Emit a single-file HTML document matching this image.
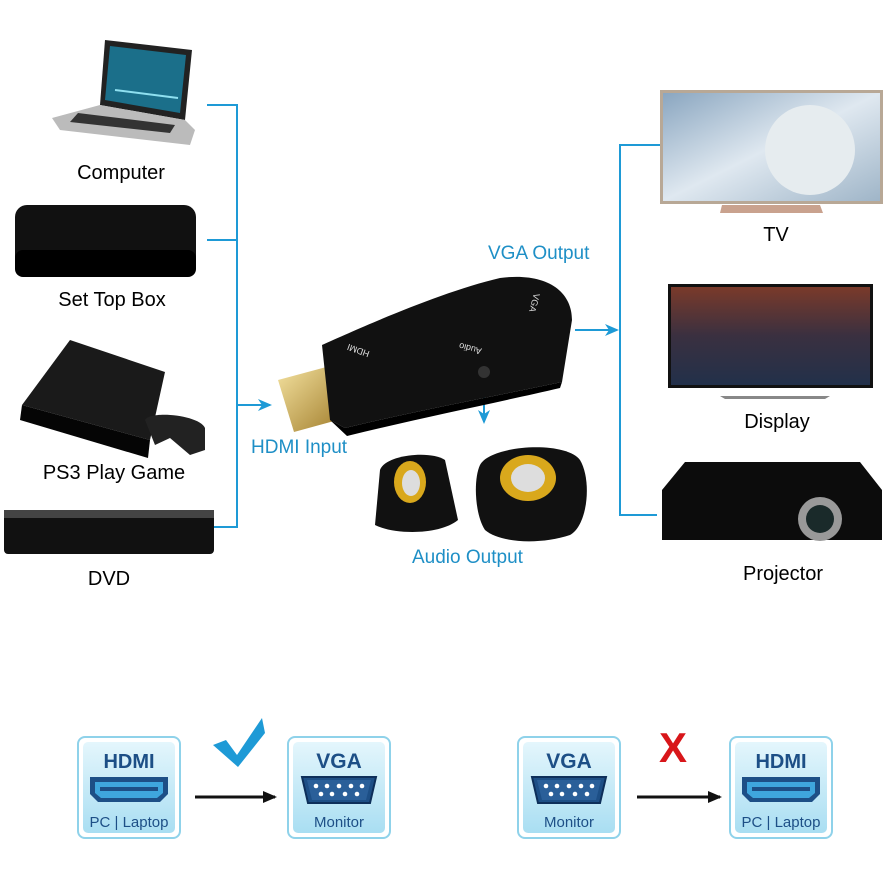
<!DOCTYPE html>
<html><head><meta charset="utf-8"><style>
html,body{margin:0;padding:0;background:#fff}
svg{display:block}
text{font-family:"Liberation Sans",sans-serif}
</style></head><body>
<svg width="890" height="890" viewBox="0 0 890 890" xmlns="http://www.w3.org/2000/svg">
<defs>
<linearGradient id="bx" x1="0" y1="0" x2="0" y2="1"><stop offset="0" stop-color="#e4f6fc"/><stop offset="1" stop-color="#a9def2"/></linearGradient>
<linearGradient id="gold" x1="0" y1="0" x2="1" y2="1"><stop offset="0" stop-color="#f4e2a0"/><stop offset="1" stop-color="#a07c2a"/></linearGradient>
<linearGradient id="tv" x1="0" y1="0" x2="1" y2="1"><stop offset="0" stop-color="#8aa6c0"/><stop offset=".5" stop-color="#dfe8f0"/><stop offset="1" stop-color="#9fb5c8"/></linearGradient>
<linearGradient id="disp" x1="0" y1="0" x2="0" y2="1"><stop offset="0" stop-color="#7a3a2a"/><stop offset=".5" stop-color="#3a3040"/><stop offset="1" stop-color="#22304a"/></linearGradient>
<marker id="ab" markerWidth="14" markerHeight="12" refX="12" refY="6" orient="auto" markerUnits="userSpaceOnUse"><path d="M0,0 L14,6 L0,12 L4,6z" fill="#1e9ad6"/></marker>
<marker id="ak" markerWidth="14" markerHeight="12" refX="12" refY="6" orient="auto" markerUnits="userSpaceOnUse"><path d="M0,0 L14,6 L0,12z" fill="#111"/></marker>
<g id="hdmibox">
<rect x="0" y="0" width="102" height="101" rx="7" fill="#fff" stroke="#8fd2ea" stroke-width="2"/>
<rect x="5" y="5" width="92" height="91" rx="5" fill="url(#bx)"/>
<text x="51" y="31" font-size="20" font-weight="bold" fill="#1d4f86" text-anchor="middle">HDMI</text>
<path d="M12,40 H90 V57 L82,65 H20 L12,57Z" fill="#1d4f86"/>
<path d="M17,45 H85 V56 L79,61 H23 L17,56Z" fill="#3fa6dd"/>
<rect x="22" y="50" width="58" height="4" fill="#1d4f86"/>
<text x="51" y="90" font-size="15" fill="#1d4f86" text-anchor="middle">PC | Laptop</text>
</g>
<g id="vgabox">
<rect x="0" y="0" width="102" height="101" rx="7" fill="#fff" stroke="#8fd2ea" stroke-width="2"/>
<rect x="5" y="5" width="92" height="91" rx="5" fill="url(#bx)"/>
<text x="51" y="31" font-size="21" font-weight="bold" fill="#1d4f86" text-anchor="middle">VGA</text>
<path d="M14,40 H88 L82,66 H20Z" fill="#1d4f86" stroke="#0d2f5a" stroke-width="2"/>
<path d="M19,43 H83 L78,63 H24Z" fill="#2a5f99"/>
<g fill="#fff"><circle cx="28" cy="49" r="2.3"/><circle cx="39" cy="49" r="2.3"/><circle cx="51" cy="49" r="2.3"/><circle cx="63" cy="49" r="2.3"/><circle cx="74" cy="49" r="2.3"/>
<circle cx="33" cy="57" r="2.3"/><circle cx="44" cy="57" r="2.3"/><circle cx="57" cy="57" r="2.3"/><circle cx="69" cy="57" r="2.3"/></g>
<text x="51" y="90" font-size="15" fill="#1d4f86" text-anchor="middle">Monitor</text>
</g>
</defs>

<!-- connectors -->
<g stroke="#1e9ad6" stroke-width="2" fill="none">
<path d="M207,105 H237 V527 H212"/>
<path d="M207,240 H237"/>
<path d="M237,405 H270" marker-end="url(#ab)"/>
<path d="M660,145 H620 V515 H657"/>
<path d="M575,330 H617" marker-end="url(#ab)"/>
<path d="M484,385 V422" marker-end="url(#ab)"/>
</g>
<g fill="#1e8fc6" font-size="19">
<text x="488" y="259">VGA Output</text>
<text x="251" y="453">HDMI Input</text>
<text x="412" y="563">Audio Output</text>
</g>

<!-- laptop -->
<path d="M105,40 L192,50 L185,120 L100,105Z" fill="#222"/>
<path d="M110,46 L186,55 L180,113 L105,100Z" fill="#1b6f8a"/>
<path d="M115,90 L178,98" stroke="#8fe0f0" stroke-width="2"/>
<path d="M100,105 L185,120 L195,130 L190,145 L60,130 L52,118Z" fill="#bbb"/>
<path d="M78,113 L175,125 L170,133 L70,122Z" fill="#333"/>
<text x="121" y="179" font-size="20" text-anchor="middle">Computer</text>
<!-- set top box -->
<rect x="15" y="205" width="181" height="72" rx="12" fill="#111"/>
<rect x="15" y="250" width="181" height="27" rx="8" fill="#000"/>
<text x="112" y="306" font-size="20" text-anchor="middle">Set Top Box</text>
<!-- ps3 -->
<path d="M70,340 L165,372 L150,440 L22,405 Z" fill="#1a1a1a"/>
<path d="M22,405 L150,440 L148,458 L20,420Z" fill="#050505"/>
<path d="M145,420 C150,410 200,415 205,428 L205,450 L190,455 L170,438 L155,445 Z" fill="#222"/>
<text x="114" y="479" font-size="20" text-anchor="middle">PS3 Play Game</text>
<!-- dvd -->
<rect x="4" y="510" width="210" height="44" rx="4" fill="#111"/>
<rect x="4" y="510" width="210" height="8" fill="#444"/>
<text x="109" y="585" font-size="20" text-anchor="middle">DVD</text>

<!-- TV -->
<rect x="660" y="90" width="223" height="114" fill="#b8a896"/>
<rect x="663" y="93" width="217" height="108" fill="url(#tv)"/>
<ellipse cx="810" cy="150" rx="45" ry="45" fill="#e6ecef"/>
<path d="M722,205 H820 L823,213 H720Z" fill="#c9a28e"/>
<text x="776" y="241" font-size="20" text-anchor="middle">TV</text>
<!-- display -->
<rect x="668" y="284" width="205" height="104" fill="#111"/>
<rect x="671" y="287" width="199" height="98" fill="url(#disp)"/>
<path d="M720,396 H830 L825,399 H725Z" fill="#888"/>
<text x="777" y="428" font-size="20" text-anchor="middle">Display</text>
<!-- projector -->
<path d="M685,462 H860 L882,490 V540 H662 V490Z" fill="#0c0c0c"/>
<circle cx="820" cy="519" r="22" fill="#999"/><circle cx="820" cy="519" r="14" fill="#1a2a2a"/>
<text x="783" y="580" font-size="20" text-anchor="middle">Projector</text>

<!-- adapter -->
<path d="M278,380 L330,366 L345,418 L294,432Z" fill="url(#gold)"/>
<path d="M322,345 C360,328 440,292 500,278 C545,272 572,290 572,320 L562,382 C500,395 420,410 345,428 L330,420Z" fill="#111"/>
<path d="M330,420 L345,428 C420,410 500,395 562,382 L560,388 C500,402 420,418 347,436Z" fill="#000"/>
<circle cx="484" cy="372" r="6" fill="#333"/>
<g fill="#ddd" font-size="9"><text x="350" y="352" transform="rotate(200 360 350)">HDMI</text><text x="462" y="350" transform="rotate(195 472 348)">Audio</text><text x="522" y="298" transform="rotate(105 530 300)">VGA</text></g>
<!-- speakers -->
<path d="M380,470 C385,455 430,450 445,460 L458,520 C440,535 395,535 375,525Z" fill="#111"/>
<ellipse cx="410" cy="482" rx="16" ry="21" fill="#d9a81c"/><ellipse cx="411" cy="483" rx="9" ry="13" fill="#ddd"/>
<path d="M480,465 C490,445 565,440 580,460 C592,480 588,525 570,535 C540,545 500,543 485,530 C475,515 473,480 480,465Z" fill="#111"/>
<ellipse cx="528" cy="478" rx="28" ry="23" fill="#d9a81c"/><ellipse cx="528" cy="478" rx="17" ry="14" fill="#ddd"/>

<!-- bottom -->
<use href="#hdmibox" x="78" y="737"/>
<use href="#vgabox" x="288" y="737"/>
<use href="#vgabox" x="518" y="737"/>
<use href="#hdmibox" x="730" y="737"/>
<path d="M195,797 H275" stroke="#111" stroke-width="3" marker-end="url(#ak)"/>
<path d="M637,797 H720" stroke="#111" stroke-width="3" marker-end="url(#ak)"/>
<path d="M213,745 L226,740 L237,755 L262,718 L265,733 L238,767Z" fill="#1e9ad6"/>
<text x="673" y="762" font-size="42" font-weight="bold" fill="#d8161a" text-anchor="middle">X</text>
</svg>
</body></html>
